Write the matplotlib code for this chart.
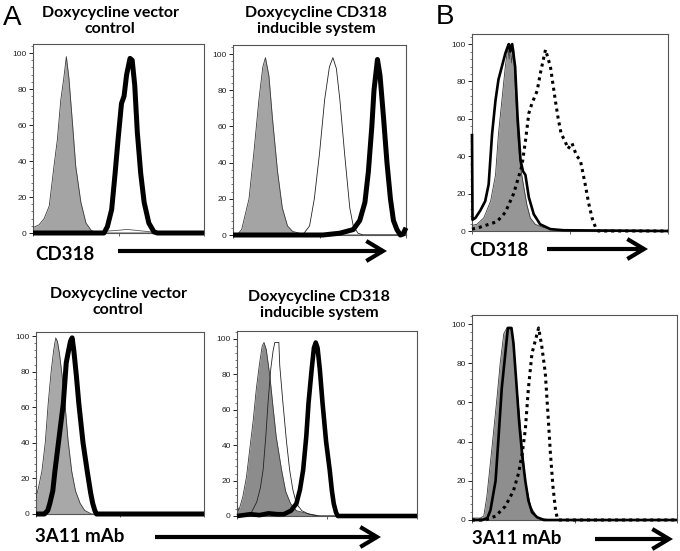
import numpy as np
import matplotlib
matplotlib.use('Agg')
import matplotlib.pyplot as plt
from matplotlib.ticker import MultipleLocator, LogLocator, NullFormatter

# ---------------- data (x in log10 fluorescence decades, y = % of max) -------------
# Panel A, top-left (CD318, vector control)
tl_gray_x = [0.00, 0.14, 0.26, 0.38, 0.49, 0.57, 0.65, 0.72, 0.78, 0.84, 0.92, 1.00, 1.12, 1.24, 1.36, 1.50, 4.00]
tl_gray_y = [3, 4.5, 8, 15, 37, 52, 74, 86, 98, 86, 62, 37, 17, 5.5, 1.5, 0, 0]
tl_thin_x = [0.00, 1.44, 1.68, 2.00, 2.20, 2.40, 2.60, 2.80, 3.00, 4.00]
tl_thin_y = [0, 0, 1, 1.5, 2, 1.5, 1, 0.5, 0, 0]
tl_bold_x = [0.00, 1.66, 1.74, 1.84, 1.92, 1.99, 2.07, 2.13, 2.19, 2.27, 2.32, 2.38, 2.44, 2.52, 2.60, 2.71, 2.83, 2.91, 4.00]
tl_bold_y = [0, 0, 3.5, 13, 33, 52, 72, 76, 88, 97, 96, 82, 56, 33, 17, 5.5, 0.6, 0, 0]

# Panel A, top-middle (CD318, inducible system)
tm_gray_x = [0.00, 0.09, 0.20, 0.37, 0.48, 0.60, 0.69, 0.75, 0.83, 0.91, 1.03, 1.14, 1.26, 1.38, 1.53, 1.60, 4.00]
tm_gray_y = [0, 0, 3, 20, 45, 75, 93, 98, 88, 65, 35, 15, 5, 2, 1, 0, 0]
tm_thin_x = [0.00, 1.61, 1.77, 1.88, 2.00, 2.12, 2.23, 2.31, 2.39, 2.47, 2.58, 2.70, 2.78, 2.89, 3.01, 4.00]
tm_thin_y = [0, 0, 5, 20, 45, 75, 93, 98, 92, 75, 45, 15, 5, 1, 0, 0]
tm_bold_x = [0.00, 2.08, 2.47, 2.78, 2.93, 3.05, 3.13, 3.21, 3.26, 3.34, 3.40, 3.48, 3.56, 3.64, 3.71, 3.79, 3.87, 3.93, 4.00]
tm_bold_y = [0, 0, 1, 3, 8, 18, 35, 60, 80, 97, 88, 65, 40, 20, 8, 3, 0, 0.5, 4]

# Panel B, top (CD318)
bt_gray_x = [0.00, 0.10, 0.24, 0.38, 0.48, 0.54, 0.61, 0.68, 0.73, 0.76, 0.78, 0.81, 0.85, 0.88, 0.93, 0.99, 1.06, 1.12, 1.19, 1.29, 1.46, 1.67, 2.00, 4.00]
bt_gray_y = [3, 3.6, 7, 16, 30, 52, 70, 88, 98, 92, 100, 90, 98, 79, 52, 34, 23, 14, 7, 3.6, 1.8, 1, 0, 0]
bt_solid_x = [0.00, 0.01, 0.07, 0.17, 0.27, 0.34, 0.41, 0.48, 0.54, 0.61, 0.68, 0.72, 0.75, 0.78, 0.82, 0.88, 0.93, 0.99, 1.04, 1.09, 1.16, 1.26, 1.39, 1.60, 1.87, 4.00]
bt_solid_y = [52, 6, 7, 11, 16, 25, 52, 70, 81, 88, 95, 98, 100, 96, 100, 88, 61, 38, 32, 30, 18, 9, 3.6, 1, 0.4, 0]
bt_dot_x = [0.00, 0.16, 0.51, 0.68, 0.85, 1.02, 1.09, 1.16, 1.22, 1.33, 1.40, 1.50, 1.60, 1.70, 1.76, 1.82, 1.90, 1.96, 2.04, 2.11, 2.14, 2.21, 2.31, 2.38, 2.45, 2.52, 2.58, 4.00]
bt_dot_y = [1, 2, 5, 10, 20, 35, 48, 63, 68, 75, 85, 97, 88, 70, 60, 52, 48, 44, 47, 42, 40, 38, 25, 15, 7, 2, 0, 0]

# Panel A, bottom-left (3A11 mAb, vector control)
bl_gray_x = [0.00, 0.06, 0.14, 0.22, 0.29, 0.36, 0.42, 0.47, 0.51, 0.56, 0.62, 0.69, 0.76, 0.85, 0.94, 1.05, 1.16, 1.32, 4.00]
bl_gray_y = [9, 15, 24, 40, 62, 80, 92, 99, 97, 90, 78, 62, 42, 24, 13, 6, 2, 0, 0]
bl_bold_x = [0.00, 0.20, 0.28, 0.33, 0.40, 0.45, 0.56, 0.65, 0.72, 0.76, 0.82, 0.86, 0.90, 0.96, 1.02, 1.12, 1.22, 1.30, 1.35, 1.40, 1.44, 4.00]
bl_bold_y = [0, 0, 2, 6, 13, 24, 45, 62, 85, 90, 97, 99, 92, 78, 62, 40, 24, 12, 6, 2, 0, 0]

# Panel A, bottom-middle (3A11 mAb, inducible system)
bm_gray_x = [0.00, 0.04, 0.13, 0.21, 0.28, 0.36, 0.43, 0.50, 0.56, 0.60, 0.65, 0.73, 0.79, 0.87, 0.99, 1.08, 1.19, 1.32, 1.54, 1.84, 4.00]
bm_gray_y = [6, 3, 11, 22, 37, 54, 72, 86, 96, 98, 94, 79, 64, 45, 26, 14, 7, 3, 1.5, 0, 0]
bm_thin_x = [0.00, 0.20, 0.32, 0.44, 0.52, 0.58, 0.64, 0.69, 0.75, 0.80, 0.84, 0.93, 0.95, 1.02, 1.10, 1.17, 1.24, 1.32, 1.44, 1.60, 1.80, 4.00]
bm_thin_y = [0, 0, 2, 8, 16, 26, 45, 64, 83, 93, 98, 98, 85, 64, 42, 26, 15, 7, 3, 1, 0, 0]
bm_bold_x = [0.00, 0.30, 0.50, 0.70, 0.90, 1.04, 1.20, 1.32, 1.40, 1.47, 1.54, 1.59, 1.66, 1.71, 1.75, 1.79, 1.84, 1.90, 1.98, 2.06, 2.11, 2.15, 2.20, 2.24, 4.00]
bm_bold_y = [0, 1, 0.5, 1.5, 1, 1, 3, 7, 15, 26, 45, 64, 83, 95, 98, 95, 83, 64, 42, 26, 14, 7, 2, 0, 0]

# Panel B, bottom (3A11 mAb)
bb_gray_x = [0.00, 0.16, 0.23, 0.29, 0.39, 0.49, 0.55, 0.62, 0.68, 0.78, 0.89, 0.98, 1.04, 1.14, 1.27, 1.46, 4.00]
bb_gray_y = [1, 1, 2, 12, 37, 63, 80, 95, 98, 97, 63, 37, 20, 7, 1.4, 0.3, 0]
bb_solid_x = [0.00, 0.20, 0.30, 0.36, 0.46, 0.52, 0.58, 0.65, 0.70, 0.77, 0.81, 0.86, 0.92, 0.98, 1.04, 1.10, 1.17, 1.27, 1.40, 4.00]
bb_solid_y = [0, 0, 1, 5, 20, 43, 67, 85, 98, 98, 90, 72, 50, 33, 20, 10, 4, 1.4, 0, 0]
bb_dot_x = [0.00, 0.26, 0.46, 0.65, 0.81, 0.91, 0.98, 1.04, 1.10, 1.17, 1.24, 1.30, 1.36, 1.43, 1.48, 1.53, 1.58, 1.63, 1.66, 1.69, 4.00]
bb_dot_y = [0, 0, 2, 7, 15, 24, 34, 46, 67, 85, 92, 98, 89, 75, 55, 34, 17, 5, 1.4, 0, 0]

# ---------------- figure -------------
W, H = 680, 551
fig = plt.figure(figsize=(W / 100, H / 100), dpi=100)
TXT = ['Lato', 'DejaVu Sans']
TICKF = ['Liberation Sans', 'DejaVu Sans']


def add_ax(l, t, r, b, ytop):
    ax = fig.add_axes([l / W, 1 - b / H, (r - l) / W, (b - t) / H])
    ax.set_xscale('log')
    ax.set_xlim(1, 1e4)
    ax.set_ylim(0, ytop)
    ax.set_yticks([0, 20, 40, 60, 80, 100])
    ax.yaxis.set_minor_locator(MultipleLocator(4))
    ax.xaxis.set_major_locator(LogLocator(10))
    ax.xaxis.set_minor_locator(LogLocator(10, subs=np.arange(2, 10)))
    ax.xaxis.set_major_formatter(NullFormatter())
    ax.xaxis.set_minor_formatter(NullFormatter())
    ax.tick_params(axis='y', which='major', length=3, width=0.7, labelsize=6, pad=1.5, colors='#222222')
    ax.tick_params(axis='y', which='minor', length=1.5, width=0.5, colors='#444444')
    ax.tick_params(axis='x', which='major', length=2.5, width=0.6, colors='#444444')
    ax.tick_params(axis='x', which='minor', length=1.5, width=0.5, colors='#444444')
    for lab in ax.get_yticklabels():
        lab.set_family(TICKF)
    for s in ax.spines.values():
        s.set_linewidth(0.8)
        s.set_color('#555555')
    return ax


def lx(v):
    return 10 ** np.asarray(v, dtype=float)


def fill(ax, x, y, color):
    ax.fill_between(lx(x), y, 0, color=color, lw=0, zorder=2)
    ax.plot(lx(x), y, color='#3a3a3a', lw=0.6, zorder=3)


def line(ax, x, y, lw, **kw):
    ax.plot(lx(x), y, color='black', lw=lw, zorder=4, clip_on=False,
            solid_joinstyle='round', solid_capstyle='butt', **kw)


# top-left
ax = add_ax(33, 44, 204, 233, 105)
fill(ax, tl_gray_x, tl_gray_y, '#a4a4a4')
ax.plot(lx(tl_thin_x), tl_thin_y, color='#555555', lw=0.6, zorder=3)
line(ax, tl_bold_x, tl_bold_y, 3.6)

# top-middle
ax = add_ax(233, 45, 406, 235, 105)
fill(ax, tm_gray_x, tm_gray_y, '#a4a4a4')
ax.plot(lx(tm_thin_x), tm_thin_y, color='#222222', lw=0.6, zorder=3)
line(ax, tm_bold_x, tm_bold_y, 3.6)

# B top
ax = add_ax(472, 34, 668, 231, 105.4)
fill(ax, bt_gray_x, bt_gray_y, '#969696')
line(ax, bt_solid_x, bt_solid_y, 1.9)
ax.plot(lx(bt_dot_x), bt_dot_y, color='black', lw=2.2, linestyle=(0, (1, 1.3)), zorder=4, clip_on=False)

# bottom-left
ax = add_ax(36, 332, 204, 514, 102.3)
fill(ax, bl_gray_x, bl_gray_y, '#a8a8a8')
line(ax, bl_bold_x, bl_bold_y, 3.6)

# bottom-middle
ax = add_ax(237, 331, 417, 516, 104.5)
fill(ax, bm_gray_x, bm_gray_y, '#8c8c8c')
ax.plot(lx(bm_thin_x), bm_thin_y, color='#222222', lw=0.6, zorder=3)
line(ax, bm_bold_x, bm_bold_y, 3.3)

# B bottom
ax = add_ax(472, 315, 677, 520, 104.6)
fill(ax, bb_gray_x, bb_gray_y, '#8e8e8e')
line(ax, bb_solid_x, bb_solid_y, 1.9)
ax.plot(lx(bb_dot_x), bb_dot_y, color='black', lw=2.2, linestyle=(0, (1, 1.3)), zorder=4, clip_on=False)


# ---------------- texts -------------
def ftext(x, y, s, size, weight='bold', family=TXT, ha='center'):
    fig.text(x / W, 1 - y / H, s, fontsize=size, fontweight=weight, family=family,
             ha=ha, va='center', linespacing=1.15)


ftext(110, 21, 'Doxycycline vector\ncontrol', 11.5)
ftext(316, 21, 'Doxycycline CD318\ninducible system', 11.5)
ftext(118, 302, 'Doxycycline vector\ncontrol', 11.5)
ftext(319, 305, 'Doxycycline CD318\ninducible system', 11.5)

ftext(3, 18, 'A', 20, weight='normal', family=['Liberation Sans', 'DejaVu Sans'], ha='left')
ftext(436, 17, 'B', 20, weight='normal', family=['Liberation Sans', 'DejaVu Sans'], ha='left')

ftext(35, 255, 'CD318', 13.5, ha='left')
ftext(469, 251, 'CD318', 13.5, ha='left')
ftext(35, 536, '3A11 mAb', 13.5, ha='left')
ftext(472, 539, '3A11 mAb', 13.5, ha='left')


def arrow(x0, x1, y, lw=3.0):
    fig.add_artist(matplotlib.patches.FancyArrowPatch(
        (x0 / W, 1 - y / H), (x1 / W, 1 - y / H), transform=fig.transFigure,
        arrowstyle='->,head_length=1.0,head_width=0.6', mutation_scale=12,
        lw=lw, color='black', shrinkA=0, shrinkB=0, capstyle='butt', joinstyle='miter'))


arrow(118, 387, 251)
arrow(547, 648, 249)
arrow(155, 381, 537)
arrow(595, 673, 539)

fig.savefig('out.png', dpi=100)
